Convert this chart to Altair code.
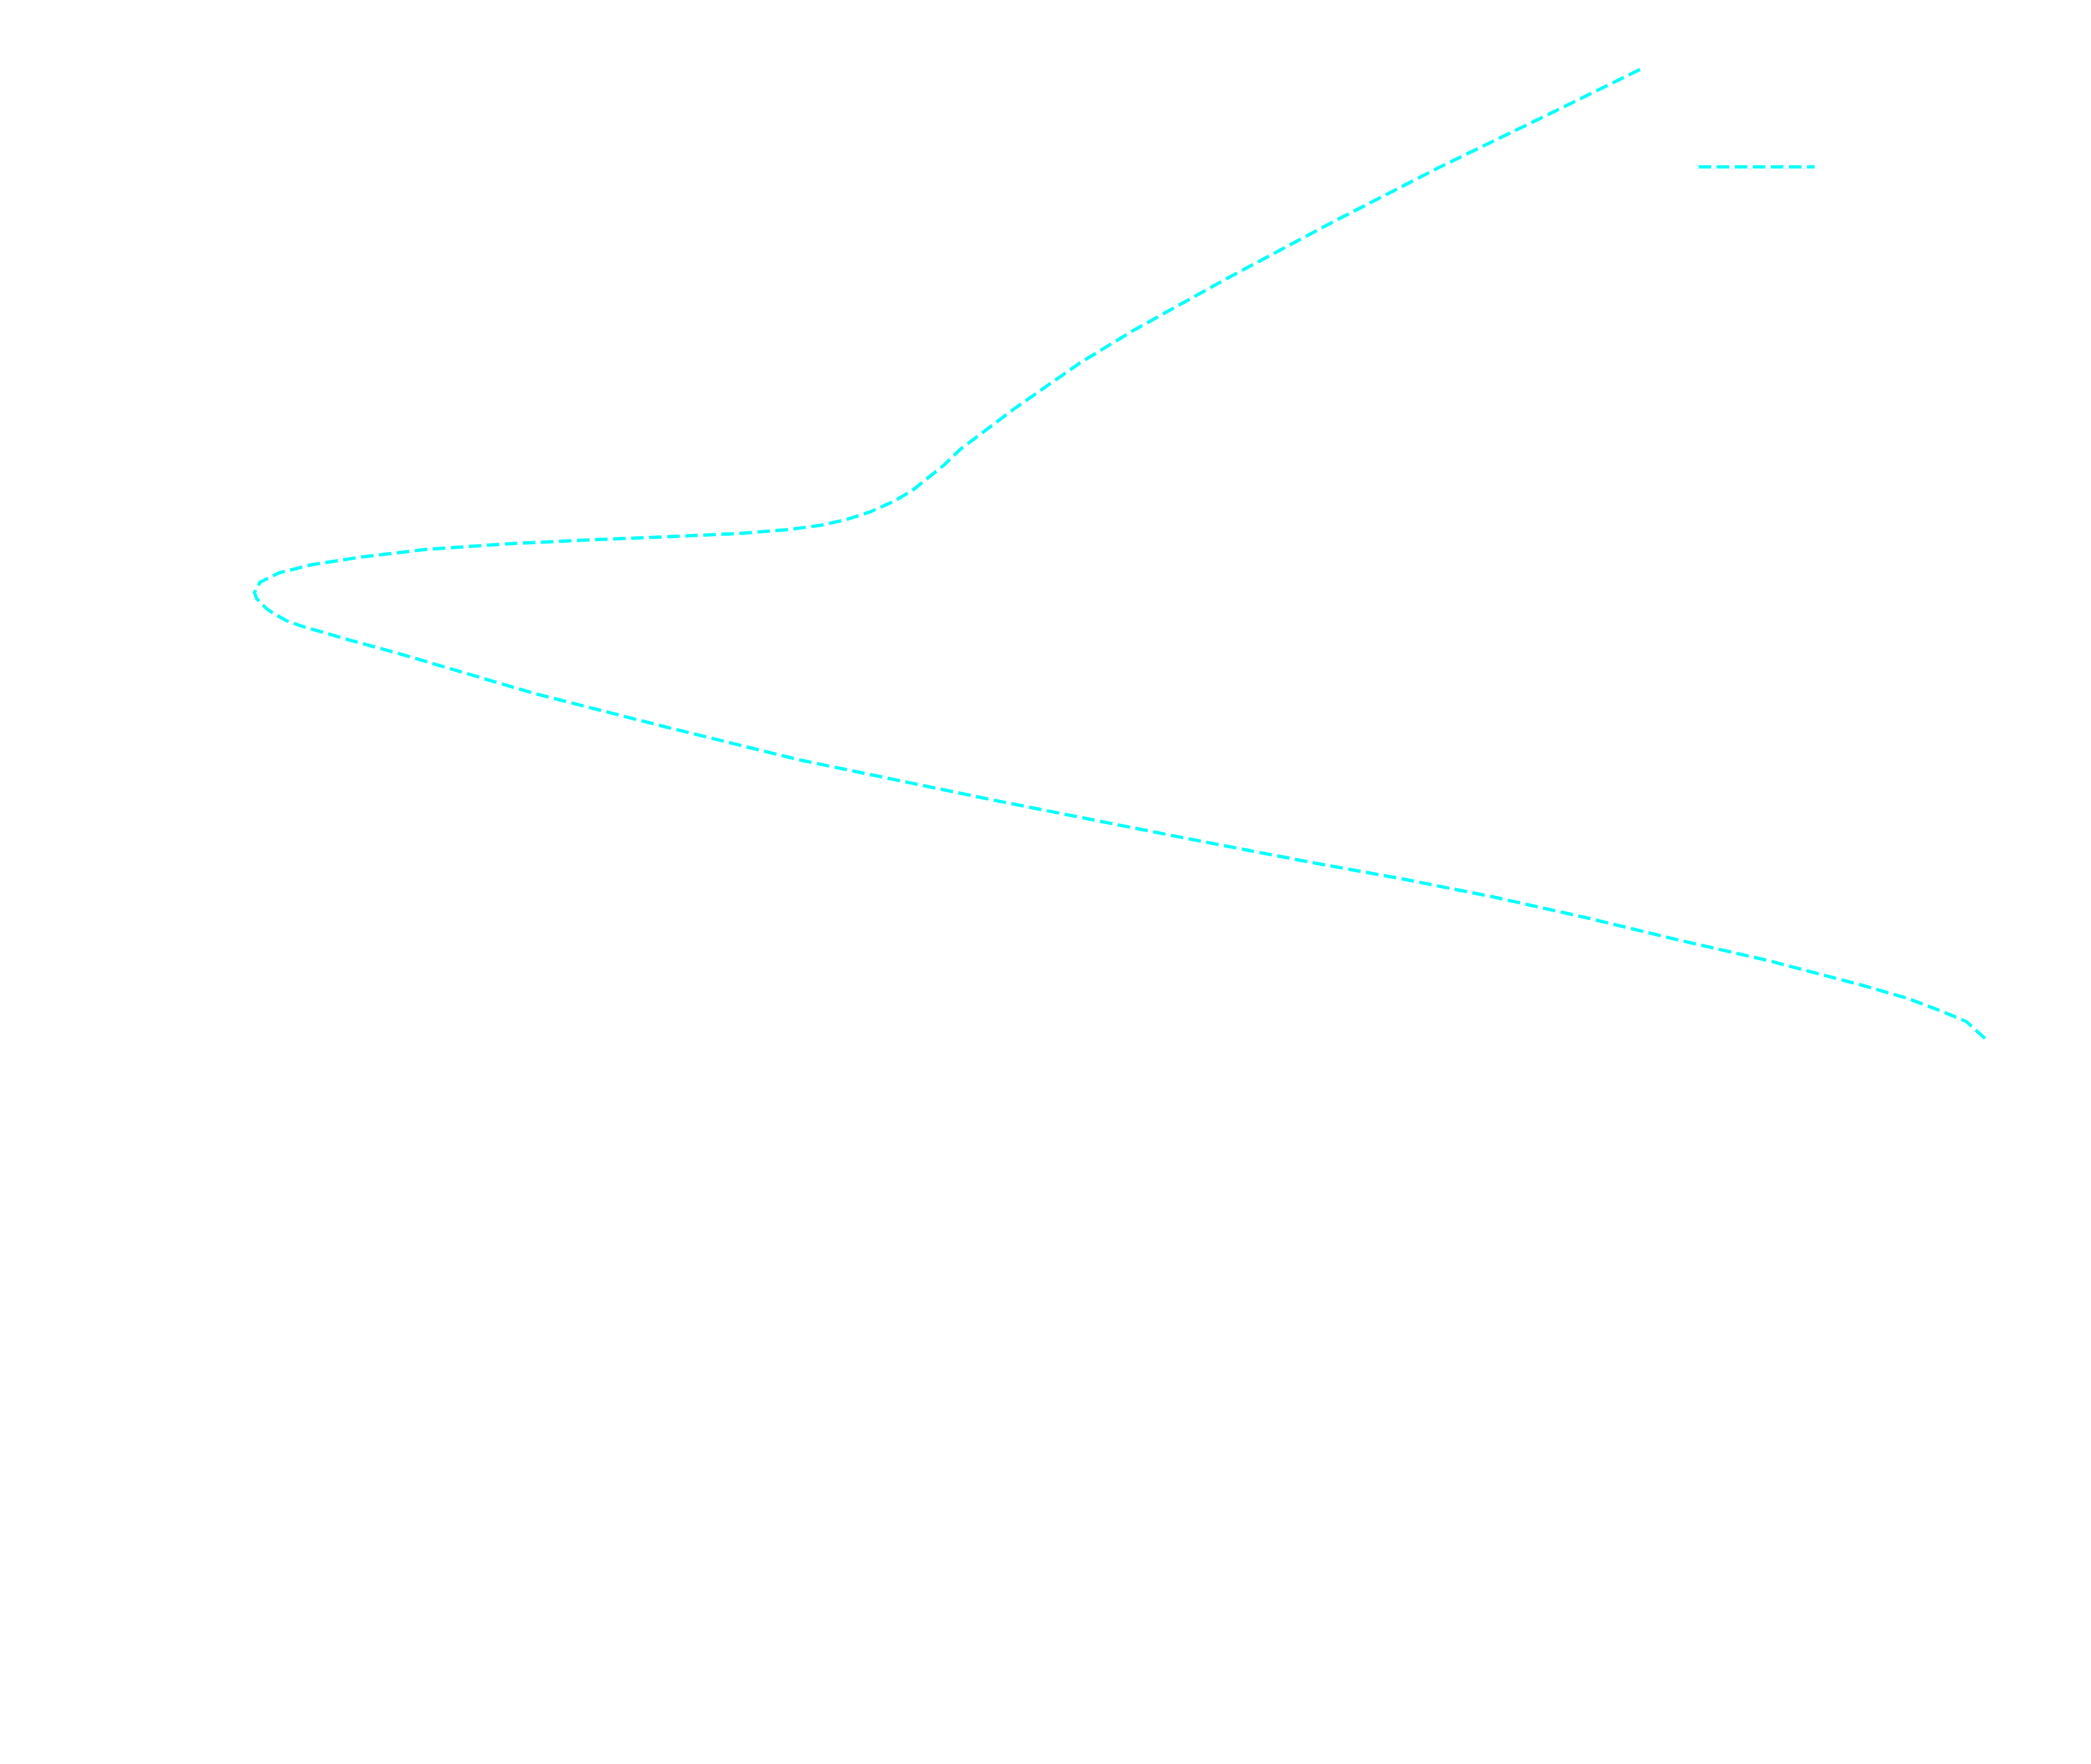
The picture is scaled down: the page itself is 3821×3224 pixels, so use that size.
import altair as alt
import pandas as pd

# Curve (arbitrary units, 0-100 on both axes), in drawing order
x_vals = [79.92, 73.80, 68.40, 62.25, 56.09, 50.69, 47.63, 43.78, 40.72, 39.77,
          38.98, 38.01, 36.90, 35.48, 34.09, 32.67, 30.78, 27.94, 23.77, 19.16,
          14.55, 9.94, 6.16, 3.31, 1.42, 0.32, 0.00, 0.13, 0.38, 0.76,
          1.20, 1.89, 2.78, 5.52, 8.40, 16.10, 23.77, 31.47, 42.58, 53.88,
          61.08, 66.32, 71.56, 76.77, 82.01, 87.25, 92.65, 95.39, 97.38, 98.74,
          100.00]
y_vals = [100.00, 94.65, 89.98, 84.35, 78.49, 73.14, 69.82, 65.03, 60.92, 59.29,
          58.16, 56.76, 55.57, 54.45, 53.66, 53.10, 52.65, 52.25, 51.91, 51.58,
          51.18, 50.62, 49.83, 49.04, 48.20, 47.24, 46.17, 45.55, 45.05, 44.43,
          43.92, 43.24, 42.68, 41.27, 39.86, 35.81, 32.32, 28.94, 24.83, 20.83,
          18.36, 16.67, 14.81, 12.73, 10.47, 8.33, 5.80, 4.39, 3.04, 2.03,
          0.00]
series_name = ["trajectory"]
line_color = ["#00ffff"]

df = pd.DataFrame({
    "x": x_vals,
    "y": y_vals,
    "i": list(range(len(x_vals))),
    "series": series_name * len(x_vals),
})

chart = (
    alt.Chart(df)
    .mark_line(strokeWidth=6, strokeDash=[23, 10], interpolate="linear")
    .encode(
        x=alt.X("x:Q", axis=None, scale=alt.Scale(domain=[0, 100], nice=False, zero=False)),
        y=alt.Y("y:Q", axis=None, scale=alt.Scale(domain=[0, 100], nice=False, zero=False)),
        order=alt.Order("i:Q"),
        color=alt.Color(
            "series:N",
            scale=alt.Scale(domain=series_name, range=line_color),
            legend=alt.Legend(
                title=None,
                orient="none",
                legendX=2636,
                legendY=69,
                padding=0,
                symbolType="stroke",
                symbolSize=44944,
                symbolStrokeWidth=6,
                symbolDash=[23, 10],
                labelColor="#ffffff",
                labelFontSize=40,
                labelFont="DejaVu Sans",
            ),
        ),
    )
    .properties(
        width=3168,
        height=1776,
        background="#ffffff",
        padding={"left": 457, "top": 119, "right": 180, "bottom": 100},
        autosize=alt.AutoSizeParams(type="none"),
    )
    .configure_view(stroke=None)
)

chart.save("out.html", embed_options={"renderer": "svg", "actions": False})
